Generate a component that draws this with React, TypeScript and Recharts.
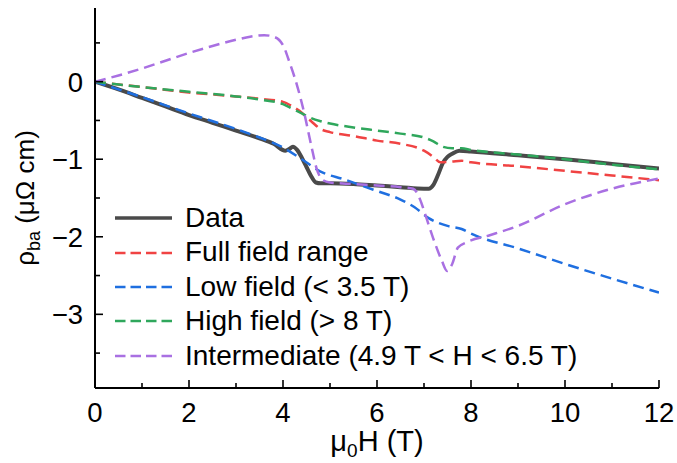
import { LineChart, Line, XAxis, YAxis, Legend } from 'recharts';

const FONT = '"Liberation Sans", Arial, Helvetica, sans-serif';

// measured trace
const dataH = [0, 0.5, 1, 1.5, 2, 2.5, 3, 3.5, 3.8, 4.05, 4.13, 4.21, 4.3, 4.4, 4.5, 4.6, 4.7, 4.8, 5, 5.5, 6, 6.5, 7, 7.1, 7.2, 7.3, 7.4, 7.5, 7.6, 7.75, 8, 9, 10, 11, 12];
const dataRho = [0, -0.1, -0.21, -0.32, -0.43, -0.53, -0.63, -0.73, -0.8, -0.89, -0.87, -0.84, -0.88, -0.98, -1.1, -1.22, -1.3, -1.31, -1.31, -1.32, -1.34, -1.36, -1.38, -1.38, -1.33, -1.2, -1.05, -0.97, -0.93, -0.89, -0.9, -0.95, -1.0, -1.06, -1.12];

// fit over the full field range
const fullH = [0, 1, 2, 3, 3.5, 4, 4.2, 4.4, 4.6, 4.8, 5, 5.5, 6, 6.5, 7, 7.2, 7.35, 7.6, 7.8, 8, 9, 10, 11, 12];
const fullRho = [0, -0.07, -0.14, -0.19, -0.22, -0.26, -0.32, -0.4, -0.51, -0.61, -0.65, -0.7, -0.76, -0.8, -0.89, -0.97, -1.04, -1.03, -1.02, -1.04, -1.09, -1.15, -1.21, -1.27];

// fit below 3.5 T
const lowH = [0, 1, 2, 3, 3.5, 4, 4.4, 4.8, 5.3, 6, 6.5, 6.8, 7.1, 7.5, 7.8, 8, 9, 10, 11, 12];
const lowRho = [0, -0.2, -0.41, -0.61, -0.72, -0.85, -1.0, -1.16, -1.26, -1.41, -1.52, -1.62, -1.76, -1.86, -1.9, -1.96, -2.15, -2.35, -2.54, -2.72];

// fit above 8 T
const highH = [0, 1, 2, 3, 3.5, 4, 4.2, 4.4, 4.6, 4.8, 5, 5.5, 6, 6.5, 7, 7.2, 7.4, 7.6, 7.8, 8, 9, 10, 11, 12];
const highRho = [0, -0.07, -0.13, -0.19, -0.23, -0.29, -0.35, -0.41, -0.47, -0.51, -0.54, -0.59, -0.63, -0.67, -0.72, -0.77, -0.84, -0.86, -0.86, -0.88, -0.94, -1.0, -1.07, -1.13];

// fit between 4.9 T and 6.5 T
const midH = [0, 0.5, 1, 1.5, 2, 2.5, 3, 3.3, 3.6, 3.8, 4.0, 4.15, 4.3, 4.45, 4.6, 4.72, 4.85, 5, 5.5, 6, 6.5, 6.77, 6.91, 7.02, 7.19, 7.38, 7.49, 7.6, 7.72, 7.91, 8.4, 9, 10, 11, 12];
const midRho = [0, 0.08, 0.17, 0.27, 0.37, 0.46, 0.54, 0.58, 0.6, 0.58, 0.47, 0.23, -0.05, -0.4, -0.82, -1.13, -1.27, -1.3, -1.32, -1.34, -1.36, -1.38, -1.51, -1.7, -2.01, -2.31, -2.44, -2.35, -2.14, -2.07, -1.98, -1.86, -1.58, -1.38, -1.25];

const xTicks = [0, 1, 2, 3, 4, 5, 6, 7, 8, 9, 10, 11, 12];
const yTicks = [-3.5, -3, -2.5, -2, -1.5, -1, -0.5, 0, 0.5];

const toPoints = (h: number[], rho: number[]) => h.map((v, i) => ({ h: v, rho: rho[i] }));

const series = [
  { name: 'Data', color: '#4a4a4a', width: 4, dash: undefined, points: toPoints(dataH, dataRho) },
  { name: 'Full field range', color: '#f04343', width: 2.5, dash: '11 6', points: toPoints(fullH, fullRho) },
  { name: 'Low field (< 3.5 T)', color: '#1f6fe0', width: 2.5, dash: '11 6', points: toPoints(lowH, lowRho) },
  { name: 'High field (> 8 T)', color: '#2fa75c', width: 2.5, dash: '11 6', points: toPoints(highH, highRho) },
  { name: 'Intermediate (4.9 T < H < 6.5 T)', color: '#a970e2', width: 2.5, dash: '11 6', points: toPoints(midH, midRho) },
];

const fmt = (v: number) => (v < 0 ? `\u2212${Math.abs(v)}` : `${v}`);

const BottomTick = ({ x, y, payload }: any) => {
  const major = payload.value % 2 === 0;
  return (
    <g>
      <line x1={x} x2={x} y1={y} y2={y - (major ? 8 : 5)} stroke="#000" strokeWidth={1.6} />
      {major && (
        <text x={x} y={y + 14} dy="0.72em" textAnchor="middle" fontSize={27.5} fontFamily={FONT} fill="#000">
          {fmt(payload.value)}
        </text>
      )}
    </g>
  );
};

const TopTick = ({ x, y, payload }: any) => {
  const major = payload.value % 2 === 0;
  return <line x1={x} x2={x} y1={y} y2={y + (major ? 8 : 5)} stroke="#000" strokeWidth={1.6} />;
};

const LeftTick = ({ x, y, payload }: any) => {
  const major = Number.isInteger(payload.value);
  return (
    <g>
      <line x1={x} x2={x + (major ? 8 : 5)} y1={y} y2={y} stroke="#000" strokeWidth={1.6} />
      {major && (
        <text x={x - 12} y={y} dy="0.36em" textAnchor="end" fontSize={27.5} fontFamily={FONT} fill="#000">
          {fmt(payload.value)}
        </text>
      )}
    </g>
  );
};

const RightTick = ({ x, y, payload }: any) => {
  const major = Number.isInteger(payload.value);
  return <line x1={x} x2={x - (major ? 8 : 5)} y1={y} y2={y} stroke="#000" strokeWidth={1.6} />;
};

const XTitle = ({ viewBox }: any) => (
  <text x={viewBox.x + viewBox.width / 2} y={viewBox.y + 63} textAnchor="middle" fontSize={29} fontFamily={FONT} fill="#000">
    μ<tspan dy={6} fontSize={19}>0</tspan>
    <tspan dy={-6}>H (T)</tspan>
  </text>
);

const YTitle = ({ viewBox }: any) => {
  const cx = 34;
  const cy = viewBox.y + viewBox.height / 2;
  return (
    <text x={cx} y={cy} transform={`rotate(-90, ${cx}, ${cy})`} textAnchor="middle" fontSize={26} fontFamily={FONT} fill="#000">
      ρ<tspan dy={6} fontSize={18}>ba</tspan>
      <tspan dy={-6}> (μΩ cm)</tspan>
    </text>
  );
};

const LegendBox = () => (
  <div style={{ fontFamily: FONT, fontSize: 28, color: '#000' }}>
    {series.map((s) => (
      <div key={s.name} style={{ display: 'flex', alignItems: 'center', height: 34.4, lineHeight: '34.4px', whiteSpace: 'nowrap' }}>
        <svg width={57} height={10} style={{ marginRight: 13, display: 'block' }}>
          <line x1={0} x2={57} y1={5} y2={5} stroke={s.color} strokeWidth={s.dash ? 2.5 : 3.5} strokeDasharray={s.dash ? '10.5 5' : undefined} />
        </svg>
        <span>{s.name}</span>
      </div>
    ))}
  </div>
);

const App = () => {
  return (
    <div style={{ position: 'absolute', left: 0, top: 0, width: 677, height: 463, background: '#fff', fontFamily: FONT }}>
      <LineChart width={677} height={463} margin={{ top: 8, right: 18, bottom: 0, left: 0 }}>
        <XAxis
          dataKey="h"
          type="number"
          domain={[0, 12]}
          ticks={xTicks}
          interval={0}
          allowDataOverflow
          height={75}
          tickSize={0}
          tickMargin={0}
          tickLine={false}
          tick={<BottomTick />}
          axisLine={{ stroke: '#000', strokeWidth: 2 }}
          label={(props: any) => <XTitle {...props} />}
        />
        <XAxis
          xAxisId="top"
          orientation="top"
          dataKey="h"
          type="number"
          domain={[0, 12]}
          ticks={xTicks}
          interval={0}
          allowDataOverflow
          height={0}
          tickSize={0}
          tickMargin={0}
          tickLine={false}
          tick={<TopTick />}
          axisLine={{ stroke: '#000', strokeWidth: 2 }}
        />
        <YAxis
          type="number"
          domain={[-3.95, 0.95]}
          ticks={yTicks}
          interval={0}
          allowDataOverflow
          width={95}
          tickSize={0}
          tickMargin={0}
          tickLine={false}
          tick={<LeftTick />}
          axisLine={{ stroke: '#000', strokeWidth: 2 }}
          label={(props: any) => <YTitle {...props} />}
        />
        <YAxis
          yAxisId="right"
          orientation="right"
          type="number"
          domain={[-3.95, 0.95]}
          ticks={yTicks}
          interval={0}
          allowDataOverflow
          width={0}
          tickSize={0}
          tickMargin={0}
          tickLine={false}
          tick={<RightTick />}
          axisLine={{ stroke: '#000', strokeWidth: 2 }}
        />
        {series.map((s) => (
          <Line
            key={s.name}
            name={s.name}
            data={s.points}
            dataKey="rho"
            type="monotone"
            stroke={s.color}
            strokeWidth={s.width}
            strokeDasharray={s.dash}
            strokeLinejoin="round"
            dot={false}
            activeDot={false}
            isAnimationActive={false}
          />
        ))}
        <Legend
          layout="horizontal"
          verticalAlign="middle"
          align="center"
          wrapperStyle={{ left: 115, top: 201, width: 'auto' }}
          content={() => <LegendBox />}
        />
      </LineChart>
    </div>
  );
};

export default App;
